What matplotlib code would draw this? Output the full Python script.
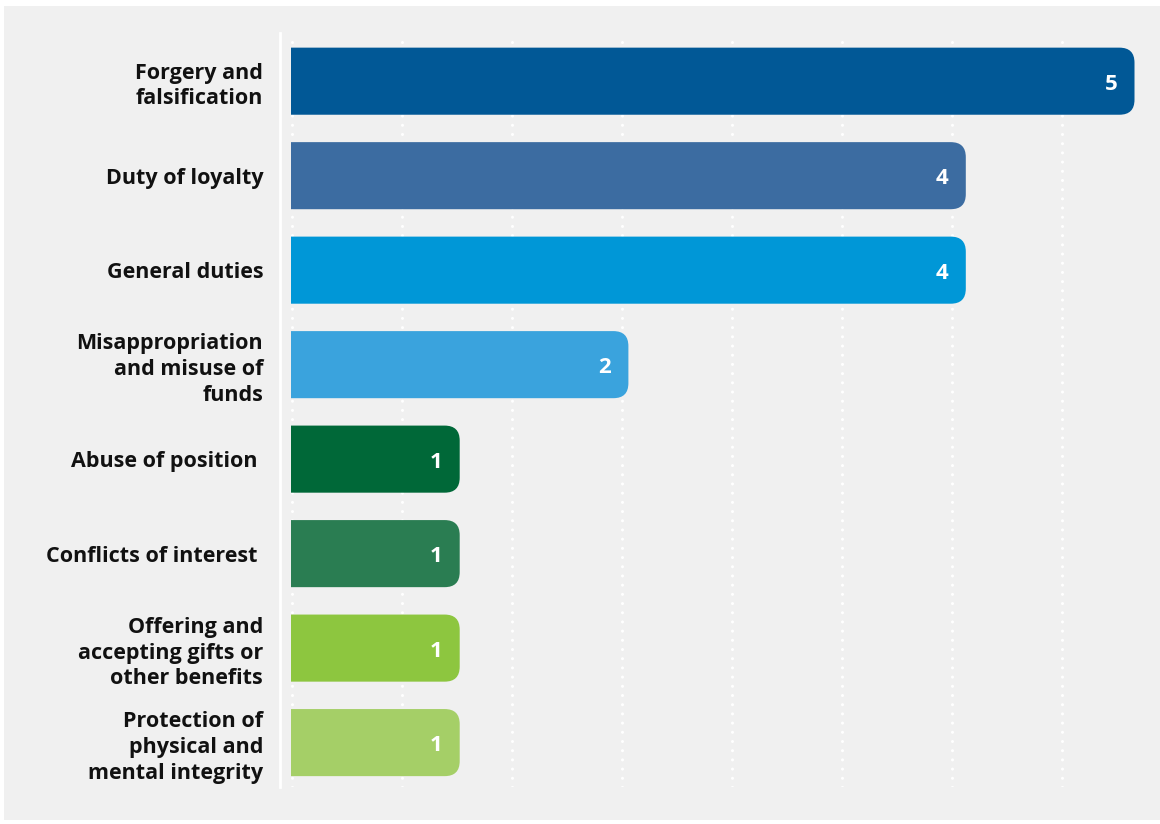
import numpy as np
import matplotlib.pyplot as plt
from matplotlib.patches import FancyBboxPatch, Rectangle
from matplotlib.lines import Line2D

categories = [
    "Forgery and\nfalsification",
    "Duty of loyalty",
    "General duties",
    "Misappropriation\nand misuse of\nfunds",
    "Abuse of position ",
    "Conflicts of interest ",
    "Offering and\naccepting gifts or\nother benefits",
    "Protection of\nphysical and\nmental integrity",
]
counts = [5, 4, 4, 2, 1, 1, 1, 1]
colors = ["#015896", "#3c6ca1", "#0097d7", "#3aa3dd",
          "#006838", "#2a7d52", "#8dc63f", "#a5cf67"]

plt.rcParams["font.family"] = ["Open Sans", "DejaVu Sans"]

W, H = 1160, 824
fig = plt.figure(figsize=(W / 100, H / 100), dpi=100, facecolor="white")

# light grey panel behind everything
fig.patches.append(Rectangle((4 / W, 4 / H), (W - 4) / W, (H - 10) / H,
                             transform=fig.transFigure, facecolor="#f0f0f0",
                             edgecolor="none", zorder=-10))

ax_l, ax_r = 291 / W, 1150 / W
ax_top, ax_bot = 1 - 33 / H, 1 - 787 / H
ax = fig.add_axes([ax_l, ax_bot, ax_r - ax_l, ax_top - ax_bot])
ax.set_facecolor("none")

px_x = 168.7   # px per x unit
px_y = 94.4    # px per bar slot
r_px = 15      # corner radius in px

ax.set_xlim(0, 859 / px_x)
ypos = np.arange(len(categories))
ax.set_ylim(len(categories) - 1 + 0.47, -0.51)

bars = ax.barh(ypos, counts, height=0.71, color=colors)
for bar, c, v in zip(bars, colors, counts):
    x0, y0 = bar.get_x(), bar.get_y()
    w, h = bar.get_width(), bar.get_height()
    bar.set_visible(False)
    rx = r_px / px_x
    ry = r_px / px_y
    # start the rounded box left of the axes so the left corners get clipped
    ax.add_patch(FancyBboxPatch((x0 - 2 * rx, y0), w + 2 * rx, h,
                                boxstyle=f"round,pad=0,rounding_size={rx}",
                                mutation_aspect=ry / rx,
                                facecolor=c, edgecolor="none", zorder=3))
    ax.text(x0 + w - 17 / px_x, y0 + h / 2 + 3 / px_y, str(v),
            ha="right", va="center", color="white", fontsize=16,
            fontweight="bold", zorder=4)

# dotted white gridlines
for gx in np.arange(0, 5.0, 110 / px_x):
    ax.axvline(gx + 1 / px_x, color="white", linestyle=(0, (0.01, 3)),
               linewidth=2.2, dash_capstyle="round", zorder=1)

# solid white line left of the bars
ax.add_line(Line2D([-11 / px_x, -11 / px_x], [len(categories) - 1 + 0.47, -0.51],
                   color="white", linewidth=2, clip_on=False, zorder=2))

ax.set_yticks(ypos)
ax.set_yticklabels(categories, fontsize=15.5, fontweight="bold",
                   color="#111111", linespacing=1.3)
ax.tick_params(axis="y", length=0, pad=20)
ax.set_xticks([])
for s in ax.spines.values():
    s.set_visible(False)

fig.savefig("out.png", dpi=100, facecolor="white")
plt.close(fig)
